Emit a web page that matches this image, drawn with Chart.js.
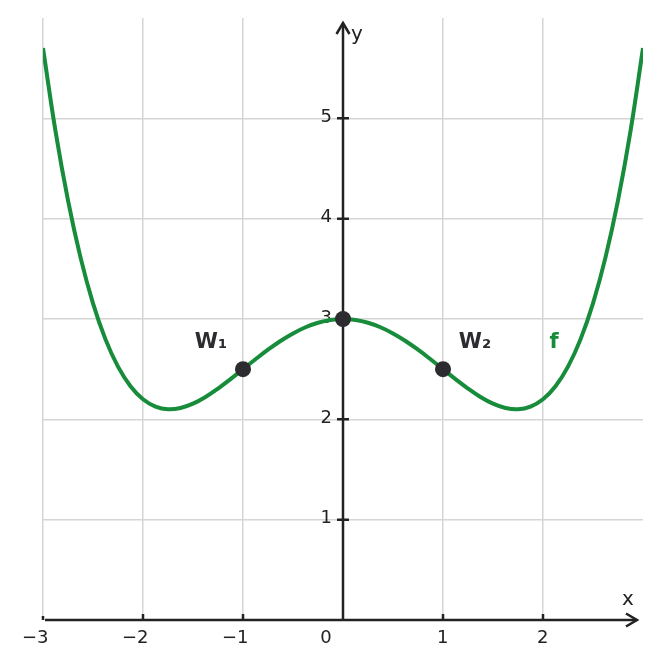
<!DOCTYPE html>
<html>
<head>
<meta charset="utf-8">
<script src="https://cdn.jsdelivr.net/npm/chart.js@4"></script>
<style>
  html, body { margin: 0; padding: 0; background: #fff; }
  #wrap { width: 661px; height: 668px; }
</style>
</head>
<body>
<div id="wrap"><canvas id="plot" width="661" height="668"></canvas></div>
<script>
// --- data ---
const xs = [-3, -2.875, -2.75, -2.625, -2.5, -2.375, -2.25, -2.125, -2, -1.875, -1.75, -1.625,
            -1.5, -1.375, -1.25, -1.125, -1, -0.875, -0.75, -0.625, -0.5, -0.375, -0.25, -0.125, 0,
            0.125, 0.25, 0.375, 0.5, 0.625, 0.75, 0.875, 1, 1.125, 1.25, 1.375, 1.5,
            1.625, 1.75, 1.875, 2, 2.125, 2.25, 2.375, 2.5, 2.625, 2.75, 2.875, 3];
const fVals = [5.7, 4.873, 4.182, 3.614, 3.156, 2.797, 2.525, 2.33, 2.2, 2.127, 2.1, 2.113,
               2.156, 2.223, 2.307, 2.401, 2.5, 2.599, 2.694, 2.781, 2.856, 2.918, 2.963, 2.991, 3,
               2.991, 2.963, 2.918, 2.856, 2.781, 2.694, 2.599, 2.5, 2.401, 2.307, 2.223, 2.156,
               2.113, 2.1, 2.127, 2.2, 2.33, 2.525, 2.797, 3.156, 3.614, 4.182, 4.873, 5.7];
const markX = [-1, 0, 1];
const markY = [2.5, 3, 2.5];
const xTickVals = [-3, -2, -1, 0, 1, 2];
const xTickText = ['−3', '−2', '−1', '0', '1', '2'];
const yTickVals = [1, 2, 3, 4, 5];
const yTickText = ['1', '2', '3', '4', '5'];

const GREEN = '#178c3b';
const DARK = '#2b2b30';
const FONT = '"DejaVu Sans", sans-serif';

// axes with arrows, tick marks and labels
const axesPlugin = {
  id: 'axes',
  beforeDatasetsDraw(chart) {
    const {ctx, scales: {x, y}} = chart;
    const x0 = x.getPixelForValue(0), y0 = y.getPixelForValue(0);
    const xEnd = x.getPixelForValue(3) - 6, yEnd = y.getPixelForValue(6) + 5;
    ctx.save();
    ctx.strokeStyle = '#222';
    ctx.lineWidth = 2.5;
    ctx.lineCap = 'butt';
    // x axis
    ctx.beginPath();
    ctx.moveTo(x.getPixelForValue(-3) + 2, y0);
    ctx.lineTo(xEnd, y0);
    ctx.stroke();
    // y axis
    ctx.beginPath();
    ctx.moveTo(x0, y0);
    ctx.lineTo(x0, yEnd);
    ctx.stroke();
    // arrow heads
    ctx.lineJoin = 'miter';
    ctx.beginPath();
    ctx.moveTo(xEnd - 11, y0 - 6.5);
    ctx.lineTo(xEnd, y0);
    ctx.lineTo(xEnd - 11, y0 + 6.5);
    ctx.moveTo(x0 - 6.5, yEnd + 11);
    ctx.lineTo(x0, yEnd);
    ctx.lineTo(x0 + 6.5, yEnd + 11);
    ctx.stroke();
    // tick marks
    ctx.beginPath();
    xTickVals.forEach(v => {
      if (v === 0) return;
      const px = x.getPixelForValue(v);
      ctx.moveTo(px, y0 - (v === -3 ? 4 : 6));
      ctx.lineTo(px, y0);
    });
    yTickVals.forEach(v => {
      const py = y.getPixelForValue(v);
      ctx.moveTo(x0 - 6, py);
      ctx.lineTo(x0 + 6, py);
    });
    ctx.stroke();
    // tick labels
    ctx.fillStyle = '#222';
    ctx.font = '18px ' + FONT;
    ctx.textBaseline = 'middle';
    xTickVals.forEach((v, i) => {
      const px = x.getPixelForValue(v);
      if (v === 0) {
        ctx.textAlign = 'center';
        ctx.fillText(xTickText[i], px - 17, y0 + 18);
      } else {
        ctx.textAlign = 'right';
        ctx.fillText(xTickText[i], px + 5.5, y0 + 18);
      }
    });
    ctx.textAlign = 'right';
    yTickVals.forEach((v, i) => {
      ctx.fillText(yTickText[i], x0 - 11, y.getPixelForValue(v) - 1);
    });
    // axis names
    ctx.textAlign = 'center';
    ctx.font = '20px ' + FONT;
    ctx.fillText('x', x.getPixelForValue(3) - 15, y0 - 20);
    ctx.fillText('y', x0 + 14, yEnd + 12);
    ctx.restore();
  },
  afterDatasetsDraw(chart) {
    const {ctx, scales: {x, y}} = chart;
    ctx.save();
    ctx.font = 'bold 21px ' + FONT;
    ctx.textBaseline = 'middle';
    ctx.textAlign = 'center';
    ctx.fillStyle = DARK;
    const py = y.getPixelForValue(markY[0]) - 27;
    ctx.fillText('W₁', x.getPixelForValue(markX[0]) - 32, py);
    ctx.fillText('W₂', x.getPixelForValue(markX[2]) + 32, py);
    ctx.fillStyle = GREEN;
    ctx.fillText('f', x.getPixelForValue(2) + 11, py);
    ctx.restore();
  }
};

const hideGrid = (v, edge) => (v === 0 || v === edge) ? 'rgba(0,0,0,0)' : '#d5d5d5';

new Chart(document.getElementById('plot').getContext('2d'), {
  type: 'scatter',
  data: {
    datasets: [
      {
        data: xs.map((v, i) => ({x: v, y: fVals[i]})),
        showLine: true,
        borderColor: GREEN,
        borderWidth: 4,
        pointRadius: 0,
        tension: 0.4,
        order: 2
      },
      {
        data: markX.map((v, i) => ({x: v, y: markY[i]})),
        showLine: false,
        pointRadius: 8,
        pointBackgroundColor: DARK,
        pointBorderWidth: 0,
        order: 1
      }
    ]
  },
  options: {
    responsive: false,
    animation: false,
    devicePixelRatio: 1,
    layout: { padding: { left: 43, right: 18, top: 18, bottom: 48 } },
    plugins: { legend: { display: false }, tooltip: { enabled: false } },
    scales: {
      x: {
        type: 'linear', min: -3, max: 3,
        ticks: { stepSize: 1, display: false },
        border: { display: false },
        grid: { drawTicks: false, lineWidth: 1.5, color: c => hideGrid(c.tick.value, 3) }
      },
      y: {
        type: 'linear', min: 0, max: 6,
        ticks: { stepSize: 1, display: false },
        border: { display: false },
        grid: { drawTicks: false, lineWidth: 1.5, color: c => hideGrid(c.tick.value, 6) }
      }
    }
  },
  plugins: [axesPlugin]
});
</script>
</body>
</html>
